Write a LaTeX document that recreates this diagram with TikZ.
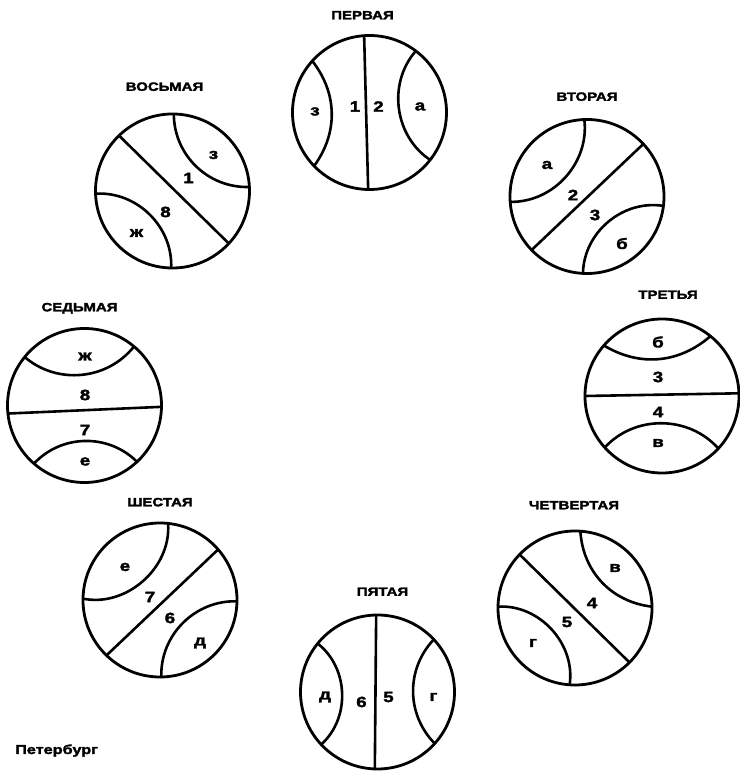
\documentclass[tikz,border=0pt]{standalone}
\usepackage{fontspec}
\newfontfamily\seamfont{Liberation Sans Bold}[FakeStretch=1.25, FakeBold=2.2]
\usetikzlibrary{positioning}

\begin{document}
\begin{tikzpicture}[
    x=1pt, y=1pt,
    ball/.style={circle, draw, line width=2.8pt, minimum size=154pt, inner sep=0pt, outer sep=0pt},
    seam/.style={line width=2.6pt},
    ttl/.style={font=\seamfont\fontsize{12}{14}\selectfont, inner sep=0pt, text height=8.6pt, text depth=0pt},
    num/.style={font=\seamfont\fontsize{15}{17}\selectfont, inner sep=0pt},
]
\useasboundingbox (0,0) rectangle (739,771);

% мячи по кругу
\node[ball] (c1) at (369.5,658.5) {};
\node[ball] (c2) at (587,574.5) {};
\node[ball] (c3) at (662,375) {};
\node[ball] (c4) at (575,163) {};
\node[ball] (c5) at (377.5,79) {};
\node[ball] (c6) at (160,171) {};
\node[ball] (c7) at (84.5,365.5) {};
\node[ball] (c8) at (172.5,580) {};

% подписи
\node[ttl, above=16pt of c1, xshift=-7pt] (t1) {ПЕРВАЯ};
\node[ttl, above=18.5pt of c2] (t2) {ВТОРАЯ};
\node[ttl, above=20pt of c3, xshift=6pt] (t3) {ТРЕТЬЯ};
\node[ttl, above=21.5pt of c4, xshift=-1pt] (t4) {ЧЕТВЕРТАЯ};
\node[ttl, above=19pt of c5, xshift=5pt] (t5) {ПЯТАЯ};
\node[ttl, above=16.5pt of c6] (t6) {ШЕСТАЯ};
\node[ttl, above=17pt of c7, xshift=-5pt] (t7) {СЕДЬМАЯ};
\node[ttl, above=23pt of c8, xshift=-8pt] (t8) {ВОСЬМАЯ};

% швы
\draw[seam] (c1.94) -- (c1.269);
\draw[seam] (c1.138) to[bend left=37] (c1.224);
\draw[seam] (c1.322) to[bend left=49] (c1.53);

\draw[seam] (c2.224) -- (c2.43);
\draw[seam] (c2.92) to[bend left=49] (c2.184);
\draw[seam] (c2.267) to[bend left=49] (c2.353);

\draw[seam] (c3.180) -- (c3.2);
\draw[seam] (c3.51) to[bend left=36] (c3.139);
\draw[seam] (c3.222) to[bend left=48] (c3.317);

\draw[seam] (c4.136) -- (c4.315);
\draw[seam] (c4.1) to[bend left=40] (c4.86);
\draw[seam] (c4.179) to[bend left=51] (c4.266);

\draw[seam] (c5.91) -- (c5.268);
\draw[seam] (c5.141) to[bend left=50] (c5.223);
\draw[seam] (c5.318) to[bend left=44] (c5.43);

\draw[seam] (c6.226) -- (c6.41);
\draw[seam] (c6.84) to[bend left=53] (c6.179);
\draw[seam] (c6.271) to[bend left=47] (c6.359);

\draw[seam] (c7.186) -- (c7.359);
\draw[seam] (c7.50) to[bend left=46] (c7.141);
\draw[seam] (c7.229) to[bend left=46] (c7.313);

\draw[seam] (c8.134) -- (c8.317);
\draw[seam] (c8.3) to[bend left=46] (c8.89);
\draw[seam] (c8.182) to[bend left=48] (c8.269);

% буквы и цифры
\node[num, xshift=-54.5pt, yshift=1pt] (n1a) at (c1) {з};
\node[num, xshift=-14.5pt, yshift=6pt] (n1b) at (c1) {1};
\node[num, xshift=9pt, yshift=6pt] (n1c) at (c1) {2};
\node[num, xshift=50.5pt, yshift=6pt] (n1d) at (c1) {а};

\node[num, xshift=-40pt, yshift=31.5pt] (n2a) at (c2) {а};
\node[num, xshift=-14pt, yshift=1.5pt] (n2b) at (c2) {2};
\node[num, xshift=8pt, yshift=-18.5pt] (n2c) at (c2) {3};
\node[num, xshift=35pt, yshift=-47pt] (n2d) at (c2) {б};

\node[num, xshift=-4pt, yshift=54pt] (n3a) at (c3) {б};
\node[num, xshift=-4pt, yshift=19pt] (n3b) at (c3) {3};
\node[num, xshift=-4pt, yshift=-16pt] (n3c) at (c3) {4};
\node[num, xshift=-4pt, yshift=-47pt] (n3d) at (c3) {в};

\node[num, xshift=40pt, yshift=40pt] (n4a) at (c4) {в};
\node[num, xshift=17pt, yshift=5pt] (n4b) at (c4) {4};
\node[num, xshift=-8pt, yshift=-14pt] (n4c) at (c4) {5};
\node[num, xshift=-42pt, yshift=-35pt] (n4d) at (c4) {г};

\node[num, xshift=56pt, yshift=-5pt] (n5a) at (c5) {г};
\node[num, xshift=11pt, yshift=-5pt] (n5b) at (c5) {5};
\node[num, xshift=-16pt, yshift=-10pt] (n5c) at (c5) {6};
\node[num, xshift=-52.5pt, yshift=-5pt] (n5d) at (c5) {д};

\node[num, xshift=-35pt, yshift=33pt] (n6a) at (c6) {е};
\node[num, xshift=-10pt, yshift=3pt] (n6b) at (c6) {7};
\node[num, xshift=10pt, yshift=-18pt] (n6c) at (c6) {6};
\node[num, xshift=40pt, yshift=-43pt] (n6d) at (c6) {д};

\node[num, xshift=0.5pt, yshift=49pt] (n7a) at (c7) {ж};
\node[num, xshift=0.5pt, yshift=10.5pt] (n7b) at (c7) {8};
\node[num, xshift=0.5pt, yshift=-24.5pt] (n7c) at (c7) {7};
\node[num, xshift=0.5pt, yshift=-56pt] (n7d) at (c7) {е};

\node[num, xshift=41pt, yshift=36pt] (n8a) at (c8) {з};
\node[num, xshift=16pt, yshift=13pt] (n8b) at (c8) {1};
\node[num, xshift=-7pt, yshift=-21pt] (n8c) at (c8) {8};
\node[num, xshift=-36pt, yshift=-42pt] (n8d) at (c8) {ж};

\node[ttl, font=\seamfont\fontsize{13}{15}\selectfont, anchor=base west] (city) at (15,17) {Петербург};

\end{tikzpicture}
\end{document}
